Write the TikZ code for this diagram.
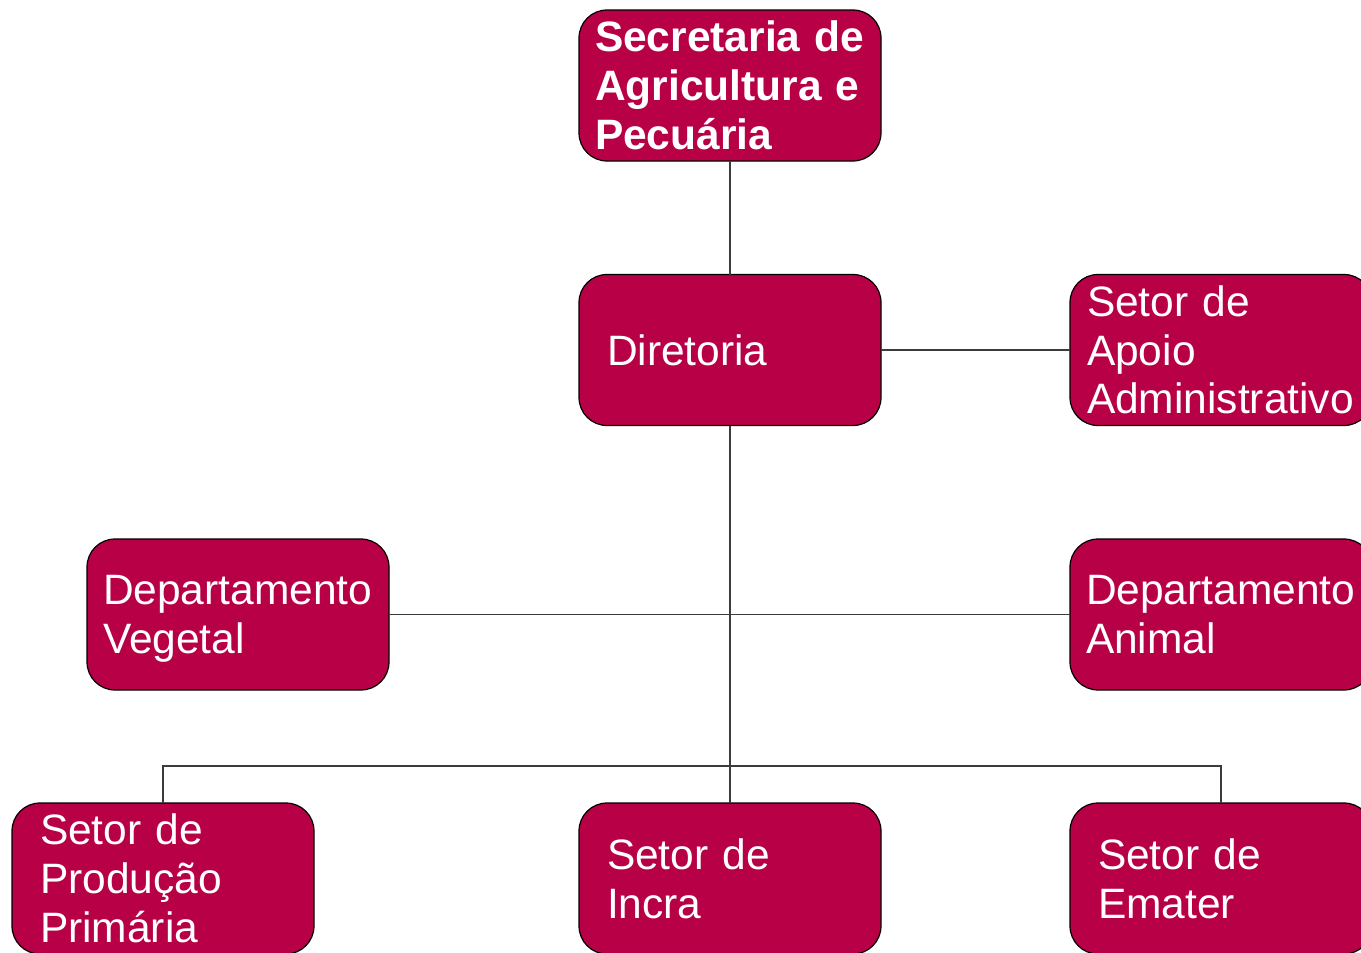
\documentclass[tikz,border=0pt]{standalone}
\usepackage{fontspec}
\setmainfont{Liberation Sans}
\definecolor{boxfill}{RGB}{184,0,70}
\definecolor{linegray}{RGB}{60,60,60}
\tikzset{
  orgbox/.style={draw=black, line width=1.2pt, fill=boxfill, rounded corners=28pt,
    text=white, align=left, outer sep=0pt, inner ysep=0pt,
    minimum height=151pt,
    font=\fontsize{42.5}{48.8}\selectfont},
  inset/.style={inner xsep=#1, text width=302pt-2*#1},
  conn/.style={draw=linegray, line width=1.1pt}
}
\begin{document}
\begin{tikzpicture}[x=1pt,y=-1pt]
\useasboundingbox (0,0) rectangle (1361,953);
\node[orgbox, inset=16pt, font=\fontsize{42.5}{48.8}\selectfont\bfseries] (secr) at (730,85.5) {Secretaria de\\Agricultura e\\Pecuária};
\node[orgbox, inset=28pt] (dir) at (730,350) {Diretoria};
\node[orgbox, inset=17pt] (apoio) at (1221,350) {Setor de\\Apoio\\Administrativo};
\node[orgbox, inset=16pt] (veg) at (238,614.5) {Departamento\\\raisebox{0pt}[\height][0pt]{Vegetal}};
\node[orgbox, inset=16pt] (anim) at (1221,614.5) {Departamento\\Animal};
\node[orgbox, inset=28pt] (prod) at (163,878.5) {Setor de\\Produção\\Primária};
\node[orgbox, inset=28pt] (incra) at (730,878.5) {Setor de\\Incra};
\node[orgbox, inset=28pt] (emater) at (1221,878.5) {Setor de\\Emater};
\coordinate (bus) at (730,766);
\draw[conn] (secr.south) -- (dir.north);
\draw[conn] (dir.east) -- (apoio.west);
\draw[conn] (dir.south) -- (incra.north);
\draw[conn] (veg.east) -- (anim.west);
\draw[conn] (prod.north) |- (bus) -| (emater.north);
\end{tikzpicture}
\end{document}
